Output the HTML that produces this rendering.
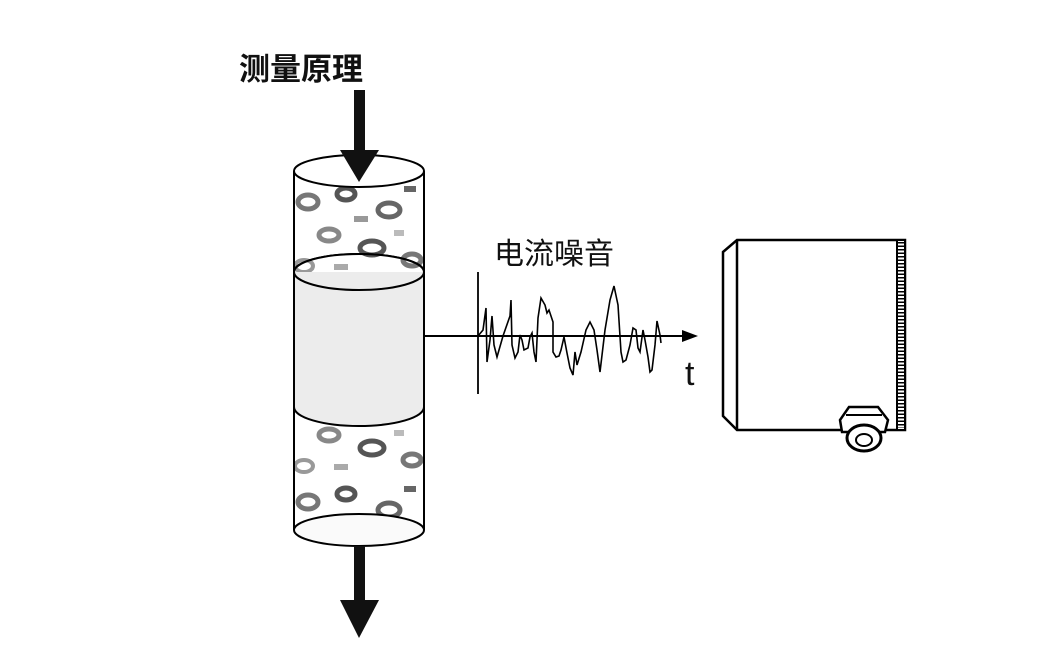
<!DOCTYPE html>
<html><head><meta charset="utf-8"><style>
html,body{margin:0;padding:0;background:#fff;}
svg{display:block;}
</style></head><body>
<svg width="1060" height="660" viewBox="0 0 1060 660" xmlns="http://www.w3.org/2000/svg">
<defs>
<pattern id="foam" width="130" height="100" patternUnits="userSpaceOnUse" x="294" y="180">
<rect width="130" height="100" fill="#fff"/>
<ellipse cx="14" cy="22" rx="10" ry="7" fill="none" stroke="#777" stroke-width="5"/>
<ellipse cx="52" cy="14" rx="9" ry="6" fill="none" stroke="#555" stroke-width="5"/>
<ellipse cx="95" cy="30" rx="11" ry="7" fill="none" stroke="#666" stroke-width="5"/>
<ellipse cx="35" cy="55" rx="10" ry="6" fill="none" stroke="#888" stroke-width="5"/>
<ellipse cx="78" cy="68" rx="12" ry="7" fill="none" stroke="#555" stroke-width="5"/>
<ellipse cx="118" cy="80" rx="9" ry="6" fill="none" stroke="#777" stroke-width="5"/>
<ellipse cx="10" cy="86" rx="9" ry="6" fill="none" stroke="#999" stroke-width="4"/>
<rect x="60" y="36" width="14" height="6" fill="#999"/>
<rect x="110" y="6" width="12" height="6" fill="#666"/>
<rect x="40" y="84" width="14" height="6" fill="#aaa"/>
<rect x="100" y="50" width="10" height="6" fill="#bbb"/>
</pattern>
</defs>
<text x="239" y="80" font-family="'Liberation Sans','Noto Sans CJK SC',sans-serif" font-size="31" font-weight="bold" fill="#111">测量原理</text>
<!-- cylinder -->
<rect x="294" y="171" width="130" height="359" fill="url(#foam)"/>
<path d="M294 272 L294 407 A65 19 0 0 0 424 407 L424 272 Z" fill="#ececec"/>
<ellipse cx="359" cy="272" rx="65" ry="18" fill="#ececec" stroke="#000" stroke-width="2"/>
<path d="M294 272 A65 18 0 0 1 424 272" fill="url(#foam)" stroke="#000" stroke-width="2"/>
<path d="M294 407 A65 19 0 0 0 424 407" fill="none" stroke="#000" stroke-width="2"/>
<ellipse cx="359" cy="171" rx="65" ry="16" fill="#fff" stroke="#000" stroke-width="2"/>
<ellipse cx="359" cy="530" rx="65" ry="16" fill="#fafafa" stroke="#000" stroke-width="2"/>
<line x1="294" y1="171" x2="294" y2="530" stroke="#000" stroke-width="2"/>
<line x1="424" y1="171" x2="424" y2="530" stroke="#000" stroke-width="2"/>
<!-- arrows -->
<rect x="354" y="90" width="11" height="62" fill="#111"/>
<polygon points="340,150 379,150 359,182" fill="#111"/>
<rect x="354" y="546" width="11" height="56" fill="#111"/>
<polygon points="340,600 379,600 359,638" fill="#111"/>
<!-- signal -->
<line x1="424" y1="336" x2="684" y2="336" stroke="#000" stroke-width="2"/>
<polygon points="682,330 698,336 682,342" fill="#000"/>
<line x1="478" y1="272" x2="478" y2="394" stroke="#000" stroke-width="1.8"/>
<polyline fill="none" stroke="#000" stroke-width="1.6" points="478,336 483,330 486,308 487,362 490,340 492,316 494,345 497,357 503,336 510,316 511,300 512,345 515,358 518,352 520,335 522,340 524,350 528,348 530,337 532,333 534,352 536,362 538,318 541,298 545,305 547,313 549,310 553,322 553,352 556,357 559,356 561,350 564,337 567,353 570,368 573,375 575,352 577,365 581,352 586,330 590,322 594,330 597,350 600,372 605,330 610,300 614,286 618,305 621,352 623,362 626,360 630,345 633,328 636,330 638,348 640,352 643,330 645,340 648,357 650,372 652,370 655,345 657,321 660,335 661,343"/>
<text x="494" y="264" font-family="'Liberation Sans','Noto Sans CJK SC',sans-serif" font-size="30" fill="#111">电流噪音</text>
<text x="685" y="385" font-family="'Liberation Sans',sans-serif" font-size="34" fill="#111">t</text>
<!-- box -->
<polygon points="737,240 905,240 905,430 737,430 723,416 723,252" fill="#fff" stroke="#000" stroke-width="2.5"/>
<line x1="737" y1="240" x2="737" y2="430" stroke="#000" stroke-width="2.5"/>
<rect x="897" y="240" width="8" height="190" fill="#fff" stroke="#000" stroke-width="2"/>
<line x1="901" y1="242" x2="901" y2="428" stroke="#000" stroke-width="6" stroke-dasharray="1.5,2"/>
<polygon points="849,407 878,407 888,420 885,432 842,432 840,420" fill="#fff" stroke="#000" stroke-width="2.5"/>
<line x1="846" y1="415" x2="882" y2="415" stroke="#000" stroke-width="2"/>
<ellipse cx="864" cy="438" rx="17" ry="13" fill="#fff" stroke="#000" stroke-width="3"/>
<ellipse cx="864" cy="440" rx="8" ry="6" fill="#fff" stroke="#000" stroke-width="2"/>
</svg>
</body></html>
